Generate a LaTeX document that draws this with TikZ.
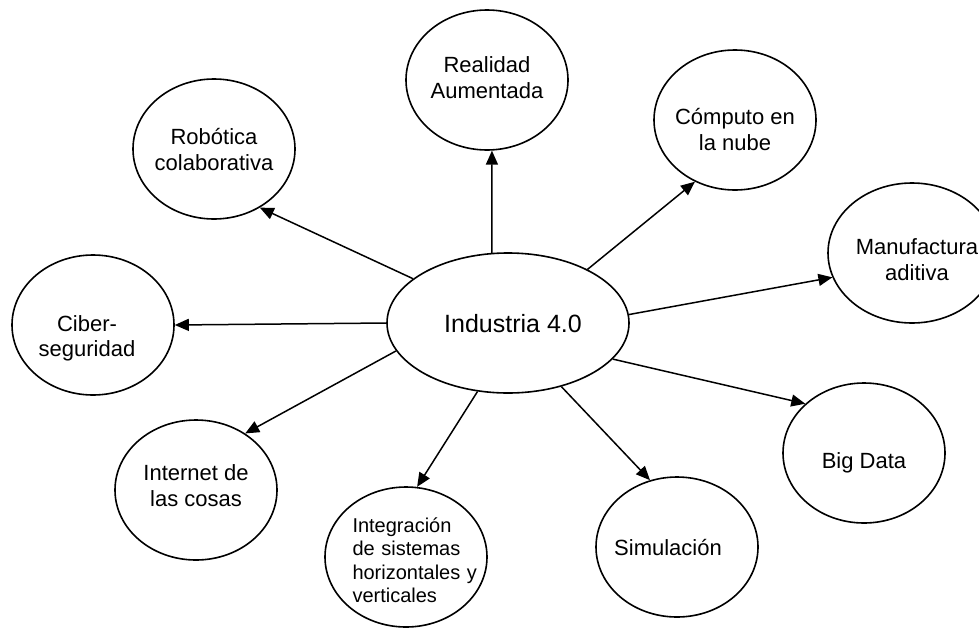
\documentclass[tikz,border=0pt]{standalone}
\usepackage{fontspec}
\setmainfont{Liberation Sans}
\usetikzlibrary{shapes.geometric,arrows.meta}
\begin{document}
\begin{tikzpicture}[x=1pt,y=-1pt,
  bub/.style={ellipse,draw,line width=1.6pt,minimum width=162pt,minimum height=140pt,inner sep=0pt},
  txt/.style={align=center,font=\fontsize{22}{26}\selectfont,inner sep=0pt},
  link/.style={line width=1.5pt,-{Triangle[length=14pt,width=12pt]}}]
\useasboundingbox (0,0) rectangle (979,627);
\clip (0,0) rectangle (979,627);
\fill[white] (0,0) rectangle (979,627);

% central concept
\node[bub,minimum width=242pt,
  label={[txt,font=\fontsize{25}{30}\selectfont,xshift=5pt,yshift=-1pt]center:Industria 4.0}] (ind) at (508,323) {};

% surrounding technologies
\node[bub,label={[txt,yshift=-1pt]center:Robótica\\colaborativa}] (rob) at (214,149) {};
\node[bub,label={[txt,yshift=2pt]center:Realidad\\Aumentada}] (ra) at (487,80) {};
\node[bub,label={[txt,yshift=-10pt]center:Cómputo en\\la nube}] (nube) at (735,120) {};
\node[bub,minimum width=168pt,label={[txt,xshift=5pt,yshift=-7pt]center:Manufactura\\aditiva}] (man) at (912,253) {};
\node[bub,label={[txt,xshift=-6pt,yshift=-13pt,font=\fontsize{22}{25}\selectfont]center:Ciber-\\seguridad}] (cib) at (93,325) {};
\node[bub,label={[txt,yshift=4pt]center:Internet de\\las cosas}] (iot) at (196,490) {};
\node[bub,label={[txt,xshift=9pt,yshift=-3pt,align=left,text width=125pt,
  font=\fontsize{20}{23.5}\selectfont]center:Integración\\
  \makebox[125pt][s]{de sistemas}\\
  \makebox[125pt][s]{horizontales y}\\
  verticales}] (int) at (406,557) {};
\node[bub,label={[txt,xshift=-9pt]center:Simulación}] (sim) at (677,547) {};
\node[bub,label={[txt,yshift=-10pt]center:Big Data}] (big) at (864,453) {};

% connectors
\draw[link] (ind.155) -- (rob.-52);
\draw[link] (ind.103) -- (ra.-86);
\draw[link] (ind.34) -- (nube.-123);
\draw[link] (ind.4) -- (man.-163);
\draw[link] (ind.180) -- (cib.0);
\draw[link] (ind.-166) -- (iot.49);
\draw[link] (ind.-114) -- (int.81);
\draw[link] (ind.-50) -- (sim.112);
\draw[link] (ind.-19) -- (big.140);
\end{tikzpicture}
\end{document}
